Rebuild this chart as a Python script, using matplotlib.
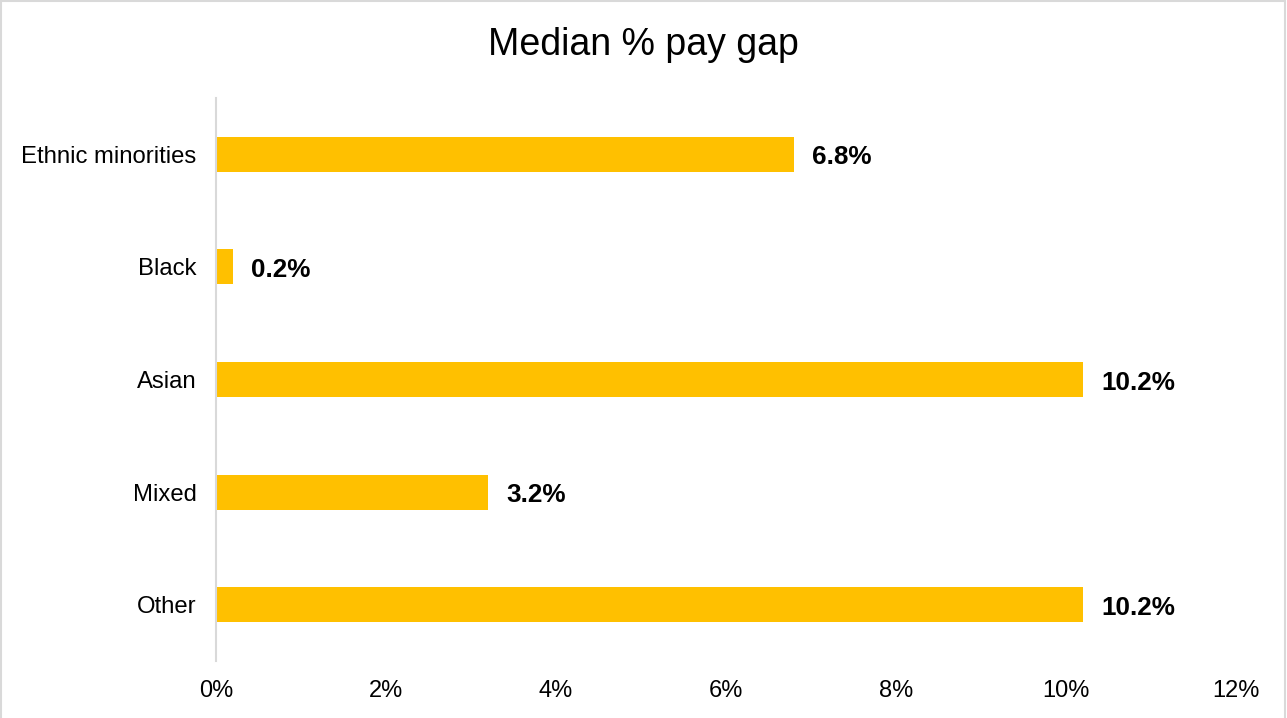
import matplotlib
matplotlib.use("Agg")
import matplotlib.pyplot as plt
from matplotlib.patches import Rectangle

plt.rcParams['font.family'] = ['Liberation Sans', 'DejaVu Sans']

categories = ["Ethnic minorities", "Black", "Asian", "Mixed", "Other"]
values = [6.8, 0.2, 10.2, 3.2, 10.2]
value_labels = ["6.8%", "0.2%", "10.2%", "3.2%", "10.2%"]
xticks = [0, 2, 4, 6, 8, 10, 12]
xtick_labels = ["0%", "2%", "4%", "6%", "8%", "10%", "12%"]
title = "Median % pay gap"

fig = plt.figure(figsize=(12.87, 7.18), dpi=100)
ax = fig.add_axes([216/1287, 1-661/718, (1236-216)/1287, (661-98)/718])

ypos = list(range(len(categories)))
ax.barh(ypos, values, height=0.31, color="#FFC000")
for y, v, lab in zip(ypos, values, value_labels):
    ax.annotate(lab, (v, y), xytext=(18, -3), textcoords="offset pixels",
                ha="left", va="center", fontsize=18.8, fontweight="bold", color="black")

ax.set_xlim(0, 12)
ax.set_ylim(len(categories)-0.5, -0.5)
ax.set_yticks(ypos)
ax.set_yticklabels(categories, fontsize=17.2)
ax.set_xticks(xticks)
ax.set_xticklabels(xtick_labels, fontsize=17)
ax.tick_params(axis="both", length=0)
ax.tick_params(axis="y", pad=14)
ax.tick_params(axis="x", pad=14)
for s in ["top", "right", "bottom"]:
    ax.spines[s].set_visible(False)
ax.spines["left"].set_color("#d9d9d9")
ax.spines["left"].set_linewidth(1.5)

fig.text(0.5, 1-45/718, title, ha="center", va="center", fontsize=27, color="black")

fig.patches.append(Rectangle((1/1287, -0.01), 1284/1287, 1-1/718+0.01, transform=fig.transFigure,
                             fill=False, edgecolor="#d9d9d9", linewidth=1.5))

fig.savefig("out.png", dpi=100)
